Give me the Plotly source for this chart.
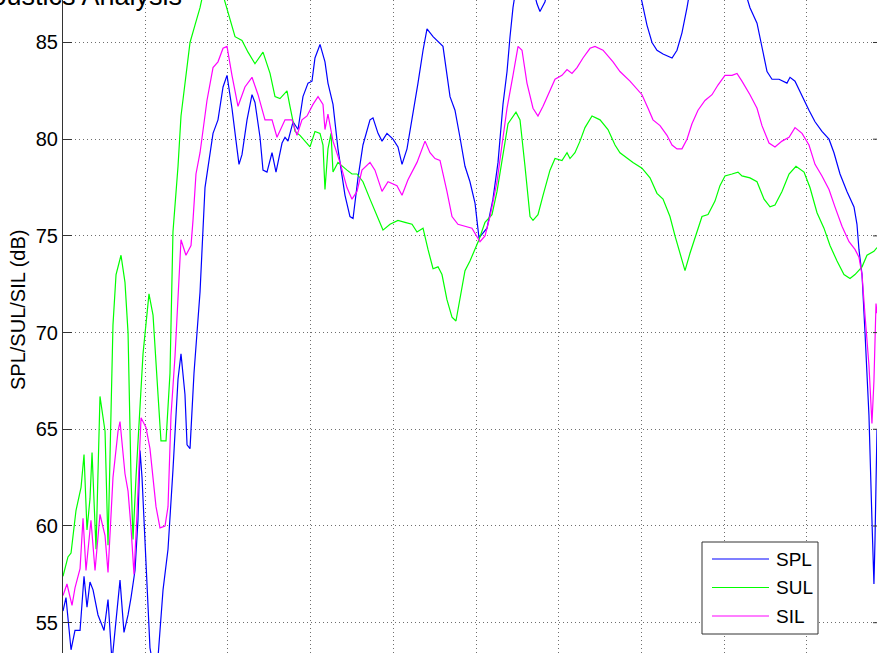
import plotly.graph_objects as go

# Time axis (s) and band levels (dB) for each measured quantity
names = ["SPL", "SUL", "SIL"]
colors = ["#0000ff", "#00ff00", "#ff00ff"]

spl_t = [0.009, 0.045, 0.106, 0.154, 0.215, 0.263, 0.299, 0.335, 0.372, 0.432,
         0.505, 0.553, 0.601, 0.650, 0.698, 0.746, 0.795, 0.831, 0.879, 0.915,
         0.940, 0.964, 1.012, 1.060, 1.109, 1.157, 1.218, 1.278, 1.338, 1.399,
         1.435, 1.483, 1.508, 1.544, 1.592, 1.640, 1.665, 1.725, 1.822, 1.882,
         1.943, 1.991, 2.051, 2.112, 2.136, 2.172, 2.233, 2.293, 2.329, 2.390,
         2.426, 2.474, 2.535, 2.583, 2.656, 2.692, 2.728, 2.789, 2.849, 2.909,
         2.970, 3.018, 3.054, 3.115, 3.175, 3.211, 3.272, 3.332, 3.417, 3.477,
         3.514, 3.574, 3.634, 3.719, 3.755, 3.816, 3.864, 3.924, 3.997, 4.057,
         4.106, 4.166, 4.227, 4.299, 4.360, 4.408, 4.481, 4.601, 4.686, 4.746,
         4.806, 4.867, 4.927, 4.988, 5.036, 5.133, 5.205, 5.266, 5.326, 5.375,
         5.411, 5.447, 5.508, 5.592, 5.677, 5.737, 5.773, 5.834, 5.894, 6.015,
         6.257, 6.499, 6.740, 6.921, 7.006, 7.066, 7.127, 7.187, 7.260, 7.369,
         7.429, 7.489, 7.550, 7.610, 7.707, 7.948, 8.190, 8.311, 8.396, 8.456,
         8.517, 8.577, 8.662, 8.758, 8.795, 8.855, 8.940, 9.024, 9.097, 9.181,
         9.266, 9.326, 9.399, 9.483, 9.568, 9.604, 9.628, 9.665, 9.701, 9.749,
         9.785, 9.809, 9.822, 9.846]
spl_db = [55.6, 56.3, 53.6, 54.6, 54.6, 57.4, 55.8, 57.1, 56.7, 55.4,
          54.6, 56.2, 53.0, 55.0, 57.2, 54.5, 55.4, 56.3, 57.7, 60.3,
          63.9, 62.5, 58.2, 53.7, 52.5, 53.2, 56.7, 58.8, 62.9, 67.6,
          68.9, 66.8, 64.2, 64.0, 67.9, 70.8, 72.1, 77.5, 80.3, 81.0,
          82.7, 83.3, 81.6, 79.5, 78.7, 79.2, 81.0, 82.3, 81.9, 80.1,
          78.4, 78.3, 79.3, 78.3, 79.8, 80.1, 79.9, 80.9, 80.5, 82.2,
          82.9, 83.0, 84.2, 84.9, 84.0, 82.9, 81.8, 79.5, 77.1, 76.0,
          75.9, 78.0, 79.7, 81.0, 81.1, 80.3, 79.9, 80.3, 80.0, 79.6,
          78.7, 79.5, 81.0, 82.9, 84.6, 85.7, 85.3, 84.8, 82.2, 81.5,
          80.1, 78.6, 77.8, 76.7, 74.9, 75.4, 76.9, 78.8, 81.8, 83.5,
          85.3, 86.8, 88.5, 89.5, 88.0, 87.0, 86.6, 87.1, 88.5, 90.0,
          91.0, 90.5, 89.5, 88.5, 87.1, 85.9, 85.0, 84.6, 84.4, 84.2,
          84.6, 85.5, 86.8, 88.3, 89.5, 90.0, 88.5, 86.8, 86.0, 84.8,
          83.5, 83.1, 83.1, 82.9, 83.2, 83.0, 82.2, 81.5, 80.9, 80.4,
          80.0, 79.3, 78.2, 77.3, 76.5, 75.6, 74.3, 73.0, 70.0, 65.7,
          60.3, 57.0, 59.3, 65.0]

sul_t = [0.009, 0.069, 0.106, 0.166, 0.227, 0.263, 0.299, 0.335, 0.360, 0.396,
         0.408, 0.456, 0.517, 0.553, 0.589, 0.613, 0.650, 0.710, 0.758, 0.795,
         0.831, 0.855, 0.891, 0.976, 1.048, 1.097, 1.157, 1.193, 1.254, 1.302,
         1.338, 1.399, 1.435, 1.495, 1.544, 1.604, 1.665, 1.725, 1.810, 1.906,
         1.967, 2.027, 2.088, 2.172, 2.245, 2.329, 2.426, 2.511, 2.571, 2.631,
         2.716, 2.752, 2.813, 2.873, 2.934, 2.994, 3.054, 3.115, 3.151, 3.175,
         3.211, 3.248, 3.272, 3.332, 3.441, 3.501, 3.562, 3.634, 3.719, 3.804,
         3.876, 3.961, 4.057, 4.142, 4.227, 4.287, 4.360, 4.420, 4.481, 4.541,
         4.589, 4.649, 4.710, 4.758, 4.806, 4.867, 4.927, 4.988, 5.036, 5.109,
         5.193, 5.254, 5.314, 5.387, 5.483, 5.532, 5.592, 5.653, 5.689, 5.749,
         5.810, 5.894, 5.955, 6.039, 6.100, 6.136, 6.196, 6.257, 6.317, 6.402,
         6.499, 6.595, 6.680, 6.740, 6.897, 7.006, 7.103, 7.187, 7.260, 7.344,
         7.405, 7.465, 7.526, 7.586, 7.671, 7.731, 7.804, 7.888, 7.948, 8.009,
         8.094, 8.166, 8.214, 8.311, 8.396, 8.481, 8.553, 8.613, 8.698, 8.783,
         8.867, 8.964, 9.036, 9.121, 9.205, 9.278, 9.363, 9.447, 9.520, 9.580,
         9.665, 9.725, 9.809, 9.846]
sul_db = [57.4, 58.4, 58.6, 60.8, 62.0, 63.7, 59.8, 61.4, 63.8, 60.5,
          58.8, 66.7, 64.9, 59.0, 65.7, 70.4, 73.0, 74.0, 72.6, 70.0,
          62.5, 59.3, 62.5, 68.9, 72.0, 70.9, 66.8, 64.4, 64.4, 67.9,
          75.2, 78.6, 81.2, 83.3, 85.0, 85.9, 86.8, 88.0, 88.5, 88.0,
          87.1, 86.1, 85.3, 85.1, 84.5, 83.9, 84.5, 83.4, 82.2, 82.1,
          82.5, 81.7, 80.4, 80.2, 79.9, 79.6, 80.4, 80.3, 79.7, 77.4,
          79.5, 80.3, 78.3, 78.8, 78.4, 78.2, 78.2, 77.8, 76.9, 76.0,
          75.3, 75.6, 75.8, 75.7, 75.6, 75.2, 75.4, 74.3, 73.3, 73.4,
          73.0, 71.7, 70.8, 70.6, 71.8, 73.2, 73.7, 74.3, 74.8, 75.7,
          76.1, 77.3, 78.8, 80.8, 81.4, 81.0, 78.6, 76.0, 75.8, 76.1,
          77.1, 78.4, 79.0, 78.9, 79.3, 79.0, 79.3, 79.9, 80.6, 81.2,
          81.0, 80.5, 79.7, 79.3, 78.8, 78.5, 78.0, 77.2, 76.9, 76.0,
          75.0, 74.1, 73.2, 74.1, 75.2, 76.0, 76.1, 76.8, 77.6, 78.1,
          78.2, 78.3, 78.1, 78.0, 77.8, 76.9, 76.5, 76.6, 77.3, 78.2,
          78.6, 78.3, 77.5, 76.2, 75.4, 74.5, 73.7, 73.0, 72.8, 73.0,
          73.4, 74.0, 74.2, 74.4]

sil_t = [0.009, 0.057, 0.118, 0.154, 0.215, 0.251, 0.287, 0.347, 0.396, 0.456,
         0.517, 0.553, 0.613, 0.674, 0.698, 0.758, 0.795, 0.831, 0.867, 0.903,
         0.952, 1.012, 1.060, 1.133, 1.181, 1.242, 1.278, 1.314, 1.363, 1.399,
         1.435, 1.495, 1.556, 1.580, 1.616, 1.665, 1.701, 1.749, 1.822, 1.882,
         1.943, 1.991, 2.051, 2.124, 2.208, 2.293, 2.366, 2.450, 2.535, 2.595,
         2.692, 2.776, 2.837, 2.897, 2.958, 3.030, 3.091, 3.151, 3.175, 3.211,
         3.272, 3.356, 3.441, 3.501, 3.562, 3.622, 3.719, 3.779, 3.864, 3.937,
         4.045, 4.106, 4.178, 4.287, 4.384, 4.444, 4.505, 4.565, 4.649, 4.710,
         4.782, 4.867, 4.951, 5.048, 5.109, 5.169, 5.254, 5.314, 5.375, 5.447,
         5.508, 5.556, 5.616, 5.689, 5.749, 5.810, 5.894, 5.955, 6.039, 6.100,
         6.160, 6.221, 6.293, 6.378, 6.438, 6.535, 6.656, 6.740, 6.861, 7.006,
         7.079, 7.139, 7.224, 7.308, 7.369, 7.429, 7.489, 7.550, 7.610, 7.683,
         7.767, 7.852, 7.924, 8.009, 8.094, 8.154, 8.214, 8.311, 8.396, 8.456,
         8.541, 8.613, 8.698, 8.783, 8.855, 8.940, 9.024, 9.097, 9.181, 9.266,
         9.338, 9.423, 9.508, 9.580, 9.628, 9.665, 9.701, 9.749, 9.785, 9.809,
         9.834, 9.846]
sil_db = [56.4, 57.0, 55.9, 56.8, 57.8, 60.4, 57.7, 60.3, 57.7, 60.6,
          59.5, 57.6, 62.5, 64.9, 65.4, 62.7, 61.8, 59.9, 57.5, 60.6,
          65.6, 65.1, 64.0, 61.0, 59.9, 60.0, 61.0, 65.7, 68.8, 72.2,
          74.8, 74.0, 74.5, 75.8, 78.2, 79.3, 80.5, 82.0, 83.7, 84.0,
          84.7, 84.8, 83.3, 81.7, 82.7, 83.2, 82.3, 81.0, 81.0, 80.1,
          81.0, 81.0, 80.2, 81.0, 81.2, 81.8, 82.2, 81.8, 80.5, 81.3,
          79.9, 78.8, 77.5, 76.9, 77.3, 78.4, 78.8, 78.4, 77.3, 77.8,
          77.6, 77.1, 77.9, 78.8, 79.9, 79.3, 79.0, 78.9, 77.3, 76.0,
          75.6, 75.5, 75.4, 74.7, 75.0, 76.0, 77.8, 79.7, 81.6, 83.3,
          84.8, 84.6, 82.9, 81.6, 81.2, 81.7, 82.5, 83.1, 83.3, 83.6,
          83.4, 83.7, 84.2, 84.7, 84.8, 84.6, 84.0, 83.5, 83.0, 82.3,
          81.6, 81.0, 80.7, 80.2, 79.7, 79.5, 79.5, 80.0, 80.8, 81.5,
          82.0, 82.3, 82.8, 83.3, 83.3, 83.4, 83.0, 82.3, 81.6, 80.7,
          79.8, 79.6, 79.9, 80.1, 80.6, 80.3, 79.7, 78.7, 78.1, 77.4,
          76.5, 75.5, 74.7, 74.3, 73.9, 73.0, 70.9, 68.3, 65.3, 67.5,
          71.5, 71.0]

y_ticks = [55, 60, 65, 70, 75, 80, 85]
y_label = "SPL/SUL/SIL (dB)"
title_text = "Acoustics Analysis"

FONT = "Arial, 'Liberation Sans', Helvetica, sans-serif"
GRID = "#6e6e6e"
AXIS = "#333333"

series = [(spl_t, spl_db), (sul_t, sul_db), (sil_t, sil_db)]

fig = go.Figure()
for (t, db), name, col in zip(series, names, colors):
    fig.add_trace(go.Scatter(x=t, y=db, mode="lines", name=name,
                             line=dict(color=col, width=1.2),
                             showlegend=False))

fig.update_layout(
    width=877, height=653,
    margin=dict(l=63, r=0, t=0, b=0),
    paper_bgcolor="white", plot_bgcolor="white",
    font=dict(family=FONT, size=20, color="black"),
)

fig.update_xaxes(
    range=[0.009, 9.846], tick0=0, dtick=1,
    showgrid=True, gridcolor=GRID, gridwidth=1, griddash="1px,3px",
    zeroline=False, showticklabels=False, ticks="",
    showline=False,
)
fig.update_yaxes(
    range=[53.433, 87.197], tickvals=y_ticks,
    showgrid=True, gridcolor=GRID, gridwidth=1, griddash="1px,3px",
    zeroline=False, ticks="inside", ticklen=9, tickcolor=AXIS,
    showline=True, linecolor=AXIS, linewidth=1,
    tickfont=dict(family=FONT, size=20, color="black"),
)

# short tick stubs on the far (right) box edge
for v in y_ticks:
    fig.add_shape(type="line", xref="paper", yref="y",
                  x0=1 - 4 / 814, x1=1, y0=v, y1=v,
                  line=dict(color=AXIS, width=1))

# y-axis title
fig.add_annotation(text=y_label, textangle=-90, xref="paper", yref="paper",
                   x=(18 - 63) / 814, y=1 - 310 / 653, xanchor="center", yanchor="middle",
                   showarrow=False, font=dict(family=FONT, size=20, color="black"))

# figure title (sits mostly above the visible area)
fig.add_annotation(text=title_text, xref="paper", yref="paper",
                   x=(184 - 63) / 814, y=1, xanchor="right", yanchor="bottom",
                   yshift=-13, showarrow=False,
                   font=dict(family=FONT, size=27, color="black"))

# legend box drawn in the lower right corner
def px_x(p):
    return (p - 63) / 814

def px_y(p):
    return 1 - p / 653

fig.add_shape(type="rect", xref="paper", yref="paper",
              x0=px_x(702), x1=px_x(818), y0=px_y(634), y1=px_y(542),
              line=dict(color=AXIS, width=1), fillcolor="white", layer="above")
for i, (name, col) in enumerate(zip(names, colors)):
    yy = px_y(559 + i * 28.5)
    fig.add_shape(type="line", xref="paper", yref="paper",
                  x0=px_x(712), x1=px_x(769), y0=yy, y1=yy,
                  line=dict(color=col, width=1.2), layer="above")
    fig.add_annotation(text=name, xref="paper", yref="paper",
                       x=px_x(774), y=yy, xanchor="left", yanchor="middle",
                       showarrow=False, font=dict(family=FONT, size=19, color="black"))

fig.write_html("out.html")
